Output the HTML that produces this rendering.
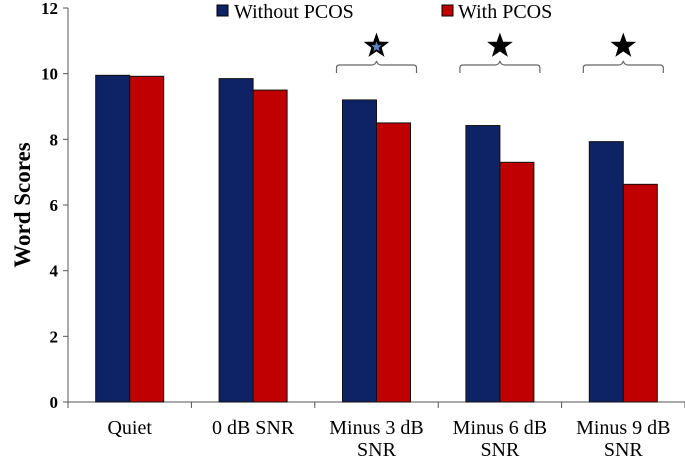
<!DOCTYPE html>
<html><head><meta charset="utf-8"><style>
html,body{margin:0;padding:0;background:#fff;}
svg{display:block;font-family:"Liberation Serif",serif;}
</style></head><body>
<svg id="chart" width="685" height="458" viewBox="0 0 685 458"></svg>
<script>
const categories = [["Quiet"],["0 dB SNR"],["Minus 3 dB","SNR"],["Minus 6 dB","SNR"],["Minus 9 dB","SNR"]];
const withoutPCOS = [9.95, 9.85, 9.2, 8.42, 7.93];
const withPCOS = [9.92, 9.5, 8.5, 7.3, 6.63];
const yTicks = [0, 2, 4, 6, 8, 10, 12];
const starred = [2, 3, 4];

const NS = "http://www.w3.org/2000/svg";
const svg = document.getElementById("chart");
const X0 = 68, X1 = 685, Y0 = 402, Y1 = 8, YMAX = 12;
const band = (X1 - X0) / categories.length;
const y = v => Y0 - (v / YMAX) * (Y0 - Y1);
const xc = i => X0 + band * (i + 0.5);
function mk(tag, attrs, txt){const e=document.createElementNS(NS,tag);for(const k in attrs)e.setAttribute(k,attrs[k]);if(txt!==undefined)e.textContent=txt;svg.appendChild(e);return e;}
function starPts(cx,cy,R,r){const pts=[];for(let k=0;k<10;k++){const rr=k%2?r:R;const a=-Math.PI/2+k*Math.PI/5;pts.push((cx+rr*Math.cos(a)).toFixed(1)+","+(cy+rr*Math.sin(a)).toFixed(1));}return pts.join(" ");}

let e = mk("line",{x1:X0,y1:Y1,x2:X0,y2:Y0,stroke:"#555","stroke-width":1});


e = mk("line",{x1:X0,y1:Y0,x2:X1,y2:Y0,stroke:"#555","stroke-width":1});



yTicks.forEach(t=>{
  mk("line",{x1:X0-5,y1:y(t),x2:X0,y2:y(t),stroke:"#555"});
  e = mk("text",{x:X0-10,y:y(t)+6,"text-anchor":"end","font-size":17,"font-weight":"bold"},t);
  
  
});
for(let i=0;i<=categories.length;i++) mk("line",{x1:X0+band*i,y1:Y0,x2:X0+band*i,y2:Y0+6,stroke:"#555"});

e = mk("text",{x:0,y:0,transform:"translate(30,205) rotate(-90)","text-anchor":"middle","font-size":23,"font-weight":"bold"},"Word Scores");



const bw = 34;
categories.forEach((c,i)=>{
  const cx = xc(i);
  let b = mk("rect",{x:cx-bw,y:y(withoutPCOS[i]),width:bw,height:Y0-y(withoutPCOS[i]),fill:"#0d2366",stroke:"#111","stroke-width":1});
  
  
  b = mk("rect",{x:cx,y:y(withPCOS[i]),width:bw,height:Y0-y(withPCOS[i]),fill:"#c00000",stroke:"#111","stroke-width":1});
  
  
  c.forEach((line,j)=>{
    const t = mk("text",{x:cx,y:434+j*22,"text-anchor":"middle","font-size":20},line);
    
    
  });
});

starred.forEach(i=>{
  const cx = xc(i);
  const by = 64;
  const p = mk("path",{d:`M${cx-40},${by+9} v-5 q0,-3 3,-3 h32 q4,0 5,-4 q1,4 5,4 h32 q3,0 3,3 v5`,fill:"none",stroke:"#666","stroke-width":1.2});
  
  
  const s = mk("polygon",{points:starPts(cx,46,12,4.8),fill:"#000",stroke:"#000","stroke-width":1});
  
  
  if(i===2){
    const s2 = mk("polygon",{points:starPts(cx,47,5.5,2.3),fill:"#5b86c5"});
    
    
  }
});

e = mk("rect",{x:217,y:5,width:11,height:11,fill:"#0d2366",stroke:"#000"});


e = mk("text",{x:234,y:18,"font-size":20},"Without PCOS");


e = mk("rect",{x:442,y:5,width:11,height:11,fill:"#c00000",stroke:"#000"});


e = mk("text",{x:458,y:18,"font-size":20},"With PCOS");


</script>
</body></html>
